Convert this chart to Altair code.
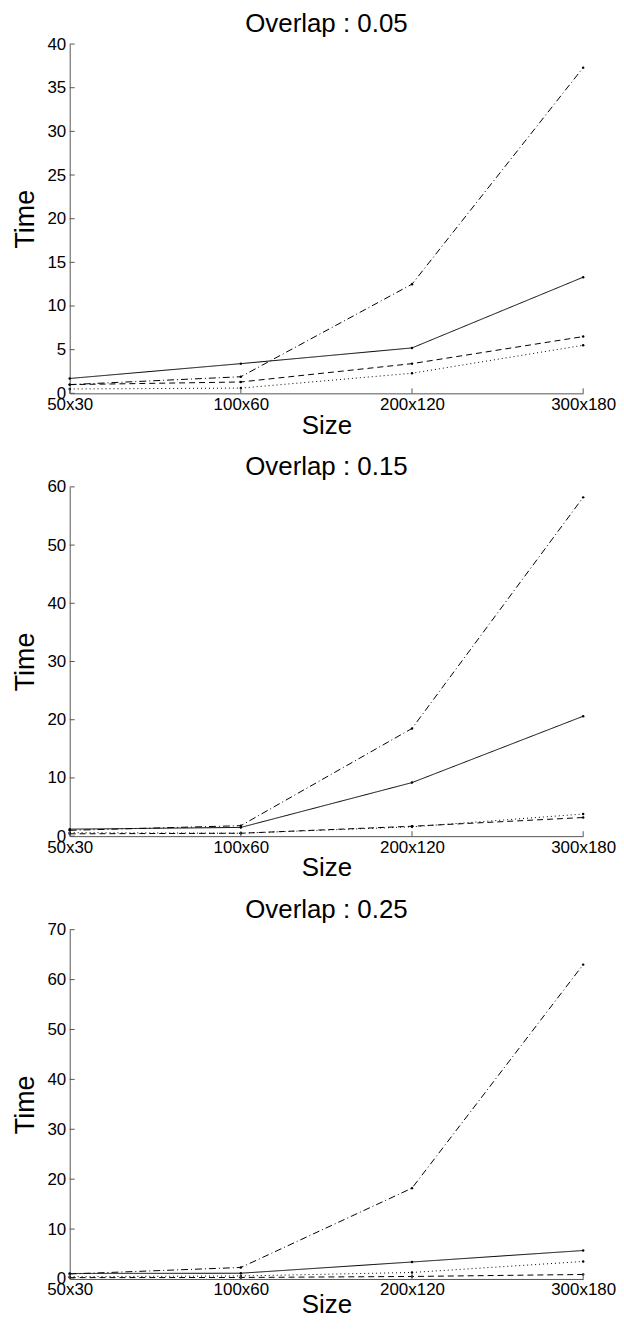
import altair as alt
import pandas as pd

sizes = ["50x30", "100x60", "200x120", "300x180"]
series_names = ["solid", "dashed", "dotted", "dashdot"]

# Overlap 0.05
p1_solid = [1.7, 3.4, 5.2, 13.3]
p1_dashed = [1.0, 1.3, 3.4, 6.5]
p1_dotted = [0.5, 0.6, 2.3, 5.5]
p1_dashdot = [1.0, 1.9, 12.5, 37.3]

# Overlap 0.15
p2_solid = [1.2, 1.5, 9.2, 20.6]
p2_dashed = [0.4, 0.5, 1.7, 3.2]
p2_dotted = [0.6, 0.5, 1.6, 3.8]
p2_dashdot = [1.0, 1.8, 18.5, 58.2]

# Overlap 0.25
p3_solid = [1.1, 1.15, 3.4, 5.7]
p3_dashed = [0.27, 0.3, 0.5, 0.9]
p3_dotted = [0.45, 0.6, 1.3, 3.5]
p3_dashdot = [1.0, 2.3, 18.2, 63.0]

titles = ["Overlap : 0.05", "Overlap : 0.15", "Overlap : 0.25"]
y_max = [40, 60, 70]
y_step = [5, 10, 10]

FONT = "Liberation Sans"
W, H = 516, 351


def panel(title, ymax, ystep, solid, dashed, dotted, dashdot, size_pad=0):
    rows = []
    for name, vals in zip(series_names, [solid, dashed, dotted, dashdot]):
        for s, v in zip(sizes, vals):
            rows.append({"Size": s, "Time": v, "series": name})
    df = pd.DataFrame(rows)
    xenc = alt.X("Size:N", sort=sizes, scale=alt.Scale(type="point", padding=0),
                 axis=alt.Axis(title="Size", labelAngle=0, ticks=False, labelPadding=3,
                               labelFontSize=17, titleFontSize=26, titleFontWeight="normal",
                               titlePadding=size_pad, domainColor="#555555", labelColor="#000000",
                               titleColor="#000000", labelFont=FONT, titleFont=FONT))
    yenc = alt.Y("Time:Q", scale=alt.Scale(domain=[0, ymax], nice=False, zero=True),
                 axis=alt.Axis(title="Time", values=list(range(0, ymax + 1, ystep)), ticks=False,
                               grid=False, labelPadding=4, labelFontSize=17, titleFontSize=27,
                               titleFontWeight="normal", titlePadding=7, domainColor="#555555",
                               labelColor="#000000", titleColor="#000000", labelFont=FONT,
                               titleFont=FONT))
    base = alt.Chart(df)
    lines = base.mark_line(strokeWidth=1, color="black").encode(
        x=xenc, y=yenc,
        strokeDash=alt.StrokeDash("series:N", legend=None,
                                  scale=alt.Scale(domain=series_names,
                                                  range=[[1, 0], [6, 4], [1, 3], [7, 3, 1, 3]])),
        detail="series:N",
    )
    pts = base.mark_circle(size=6, color="black", opacity=1).encode(x=xenc, y=yenc)
    yt = pd.DataFrame({"Time": list(range(0, ymax + 1, ystep))})
    ytick = alt.Chart(yt).mark_rule(color="#555555", strokeWidth=1).encode(
        y=alt.Y("Time:Q"), x=alt.value(0), x2=alt.value(5))
    xt = pd.DataFrame({"Size": sizes})
    xtick = alt.Chart(xt).mark_rule(color="#555555", strokeWidth=1).encode(
        x=alt.X("Size:N", sort=sizes), y=alt.value(H), y2=alt.value(H - 5))
    return alt.layer(lines, pts, ytick, xtick).properties(
        width=W, height=H,
        title=alt.TitleParams(title, fontSize=26, fontWeight="normal", font=FONT,
                              color="#000000", offset=-2, anchor="middle"),
    )


chart = alt.vconcat(
    panel(titles[0], y_max[0], y_step[0], p1_solid, p1_dashed, p1_dotted, p1_dashdot),
    panel(titles[1], y_max[1], y_step[1], p2_solid, p2_dashed, p2_dotted, p2_dashdot),
    panel(titles[2], y_max[2], y_step[2], p3_solid, p3_dashed, p3_dotted, p3_dashdot,
          size_pad=-6),
    spacing=16,
).properties(
    padding={"left": 4, "top": 0, "right": 0, "bottom": -2},
).configure_view(stroke=None).configure_axis(grid=False)

chart.save("out.html", embed_options={"renderer": "svg", "actions": False})
